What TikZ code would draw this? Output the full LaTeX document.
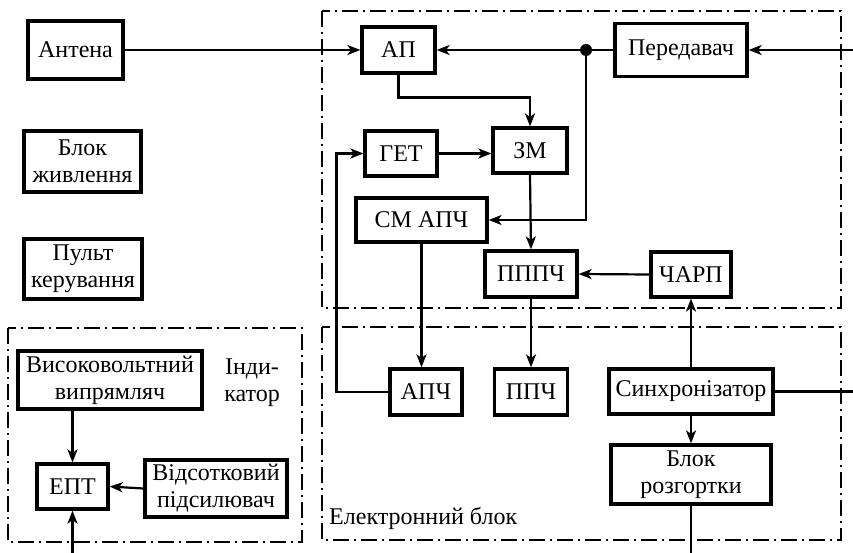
\documentclass[tikz,border=0pt]{standalone}
\usepackage{fontspec}
\setmainfont{Liberation Serif}
\usetikzlibrary{arrows.meta}
\begin{document}
\begin{tikzpicture}[x=1pt,y=-1pt,
  font=\fontsize{24}{27}\selectfont,
  blk/.style={draw, line width=3.2pt, inner sep=2pt, align=center},
  conn/.style={line width=2.2pt},
  arr/.style={conn, -{Stealth[length=13pt,width=10pt,inset=3.5pt]}},
  frame/.style={line width=2pt, dash pattern=on 16pt off 5pt on 2pt off 5pt},
  jdot/.style={circle, fill, inner sep=0pt, minimum size=12pt}]
\useasboundingbox (0,0) rectangle (853,553);

% group frames
\draw[frame] (322,11) rectangle (841,308);
\draw[frame] (322,327) rectangle (841,540);
\draw[frame] (8,328) rectangle (302,542);

% blocks outside the frames
\node[blk, minimum width=95pt, minimum height=58pt] (ant) at (75.5,50) {Антена};
\node[blk, minimum width=117pt, minimum height=61pt] (pwr) at (82.5,161.5) {Блок\\живлення};
\node[blk, minimum width=118pt, minimum height=60pt] (ctl) at (83,269) {Пульт\\керування};

% upper frame
\node[blk, minimum width=73pt, minimum height=46pt] (ap) at (398.5,50) {АП};
\node[blk, minimum width=132pt, minimum height=53pt] (tx) at (681,50) {Передавач};
\node[blk, minimum width=74pt, minimum height=45pt] (zm) at (530,150.5) {ЗМ};
\node[blk, minimum width=72pt, minimum height=45pt] (get) at (401,153.5) {ГЕТ};
\node[blk, minimum width=131pt, minimum height=44pt] (smapch) at (421.5,220) {СМ АПЧ};
\node[blk, minimum width=92pt, minimum height=46pt] (pppch) at (531,274) {ПППЧ};
\node[blk, minimum width=80pt, minimum height=45pt] (charp) at (691,274.5) {ЧАРП};

% electronic block
\node[blk, minimum width=72pt, minimum height=46pt] (apch) at (426,392) {АПЧ};
\node[blk, minimum width=73pt, minimum height=46pt] (ppch) at (531,392) {ППЧ};
\node[blk, minimum width=164pt, minimum height=45pt] (sync) at (691,391.5) {Синхронізатор};
\node[blk, minimum width=160pt, minimum height=59pt] (scan) at (691,474.5) {Блок\\розгортки};
\node[anchor=west, inner sep=0pt] (elab) at (329,518) {Електронний блок};

% indicator
\node[blk, minimum width=184pt, minimum height=58pt] (hv) at (110,380) {Високовольтний\\випрямляч};
\node[align=center, inner sep=0pt] (ilab) at (252,383) {Інди-\\катор};
\node[blk, minimum width=71pt, minimum height=45pt] (ept) at (72.5,486.5) {ЕПТ};
\node[blk, minimum width=142pt, minimum height=57pt] (amp) at (216,488.5) {Відсотковий\\підсилювач};

% free ends
\coordinate (txin) at (853,50);
\coordinate (syncout) at (853,391.5);
\coordinate (scanout) at (691,553);
\coordinate (eptin) at (72.5,553);
\coordinate (j) at (586,50);

% connectors
\draw[arr] (ant.east) -- (ap.west);
\draw[arr] (txin) -- (tx.east);
\draw[arr] (tx.west) -- (ap.east);
\node[jdot] (jd) at (j) {};
\draw[arr] (j) |- (smapch.east);
\draw[arr] (ap.south) -- ++(0,23) -| (zm.north);
\draw[arr] (get.east) -- (get.east -| zm.west);
\draw[arr] (apch.west) -- ++(-52,0) |- (get.west);
\draw[arr] (smapch.south) -- (smapch.south |- apch.north);
\draw[arr] (zm.south) -- (pppch.north);
\draw[arr] (charp.west) -- (pppch.east);
\draw[arr] (pppch.south) -- (ppch.north);
\draw[arr] (sync.north) -- (charp.south);
\draw[conn] (sync.east) -- (syncout);
\draw[arr] (sync.south) -- (scan.north);
\draw[conn] (scan.south) -- (scanout);
\draw[arr] (ept.north |- hv.south) -- (ept.north);
\draw[arr] (amp.west) -- (ept.east);
\draw[arr] (eptin) -- (ept.south);
\end{tikzpicture}
\end{document}
